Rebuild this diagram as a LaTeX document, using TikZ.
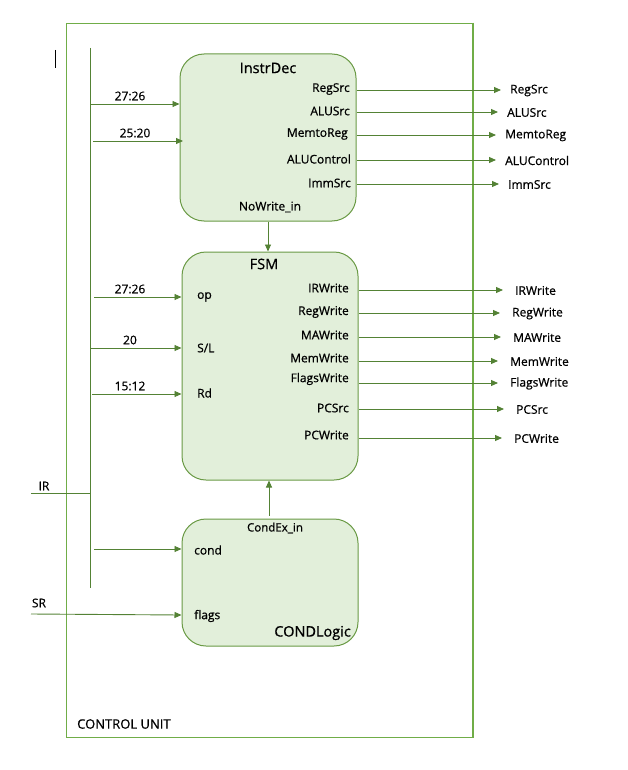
\documentclass[tikz,border=0pt]{standalone}
\usepackage{fontspec}
\setmainfont{Open Sans}[FakeBold=0.7]
\usetikzlibrary{arrows.meta}
\definecolor{dkgreen}{HTML}{548235}
\definecolor{ltgreen}{HTML}{70AD47}
\definecolor{boxfill}{HTML}{E2EFDA}
\definecolor{boxline}{HTML}{6A9A45}
\begin{document}
\begin{tikzpicture}[x=1pt,y=-1pt,
  blk/.style={draw=boxline, fill=boxfill, line width=1pt, rounded corners=24pt, inner sep=0pt},
  sig/.style={draw=dkgreen, line width=0.9pt, -{Triangle[length=7pt,width=6pt]}},
  wire/.style={draw=dkgreen, line width=0.9pt},
  lbl/.style={font=\fontsize{12}{14}\selectfont, inner sep=0pt, text=black},
  lbll/.style={lbl, anchor=west},
  lblr/.style={lbl, anchor=east},
  ttl/.style={font=\fontsize{14.5}{16}\selectfont, inner sep=0pt}]
\useasboundingbox (0,0) rectangle (627,770);
% outer frame
\node[draw=ltgreen, line width=0.9pt, minimum width=407pt, minimum height=714pt, inner sep=0pt] (cu) at (269.5,380) {};
\draw[ltgreen, line width=2pt] (cu.north east) -- (cu.south east);
\node[anchor=west, font=\fontsize{13}{15}\selectfont, inner sep=0pt] (cutxt) at (77,724) {CONTROL UNIT};
% cursor mark
\coordinate (curA) at (55,50); \coordinate (curB) at (55,68);
\draw[black, line width=0.7pt] (curA) -- (curB);
% blocks
\node[blk, minimum width=176pt, minimum height=167pt] (dec) at (268,137.5) {};
\node[blk, minimum width=176pt, minimum height=228pt] (fsm) at (270,366) {};
\node[blk, minimum width=176pt, minimum height=127pt] (cnd) at (270,582.5) {};
\node[ttl] (decT) at (268,68) {InstrDec};
\node[ttl] (fsmT) at (264,264) {FSM};
\node[ttl, anchor=east] (cndT) at (351,633) {CONDLogic};
% bus
\coordinate (busTop) at (90,48);
\coordinate (busBot) at (90,588);
\draw[wire] (busTop) -- (busBot);
\coordinate (irL) at (31,493);
\draw[wire] (irL) -- (irL -| busTop);
\node[lbl] (irT) at (44,486) {IR};
\coordinate (srL) at (31,614);
\node[lbl] (srT) at (39,603) {SR};
% InstrDec inputs
\draw[sig] (91,104) -- (dec.west |- 0,104);
\node[lbl] (d1) at (130,96) {27:26};
\draw[sig] (93,141) -- (183,141);
\node[lbl] (d2) at (135,133) {25:20};
% InstrDec outputs
\foreach \nm/\y/\ox/\lx in {RegSrc/90/350/510, ALUSrc/112/350/507, MemtoReg/135/348/505, ALUControl/160/351/505, ImmSrc/184/351/508}{
  \node[lblr] (dl\nm) at (\ox,\y-1) {\nm};
  \node[lbll] (do\nm) at (\lx,\y+0.5) {\nm};
  \draw[sig] (dec.east |- 0,\y) -- ([xshift=-9pt]do\nm.west |- 0,\y);
}
\node[lbl] (nw) at (270,207) {NoWrite\_in};
\draw[sig] (dec.south -| 268,0) -- (fsm.north -| 268,0);
% FSM inputs
\draw[sig] (94,297) -- (fsm.west |- 0,297);
\node[lbl] (f1) at (130,289) {27:26};
\node[lbll] (fop) at (197,297) {op};
\draw[sig] (90,348) -- (fsm.west |- 0,348);
\node[lbl] (f2) at (130,340) {20};
\node[lbll] (fsl) at (197,348) {S/L};
\draw[sig] (92,394) -- (fsm.west |- 0,394);
\node[lbl] (f3) at (130,386) {15:12};
\node[lbll] (frd) at (197,393) {Rd};
% FSM outputs
\foreach \nm/\y/\ly/\lx in {IRWrite/290/288/515, RegWrite/313/312/512, MAWrite/337/335/513, MemWrite/361/358/510, FlagsWrite/383/379/510, PCSrc/409/408/516, PCWrite/438/435/514}{
  \node[lblr] (fl\nm) at (349,\ly) {\nm};
  \node[lbll] (fo\nm) at (\lx,\y+0.5) {\nm};
  \draw[sig] (fsm.east |- 0,\y) -- ([xshift=-12pt]fo\nm.west |- 0,\y);
}
% COND
\node[lbl, font=\fontsize{11.5}{13}\selectfont] (cex) at (275,528) {CondEx\_in};
\draw[sig] (cnd.north -| 269,0) ++(0,-3) -- (fsm.south -| 269,0);
\node[lbll] (ccond) at (194,550) {cond};
\draw[sig] (94,549) -- (cnd.west |- 0,549);
\node[lbll] (cflags) at (194,616) {flags};
\draw[sig] (srL) -- (cnd.west |- 0,615);
\end{tikzpicture}
\end{document}
